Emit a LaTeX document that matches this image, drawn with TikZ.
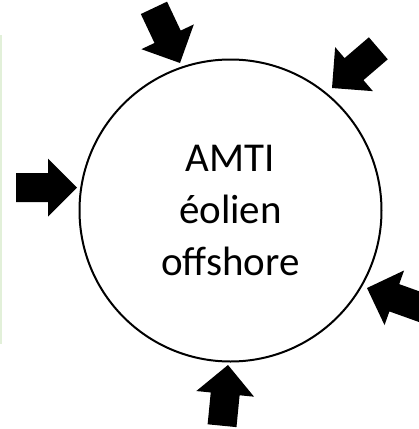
\documentclass[tikz,border=0pt]{standalone}
\usepackage{fontspec}
\setmainfont{Carlito}
\definecolor{edgegreen}{HTML}{E2F0D9}
\tikzset{
  blockarrow/.pic={\fill[black] (0,0) -- (-29,29) -- (-29,14.5) -- (-61,14.5) -- (-61,-14.5) -- (-29,-14.5) -- (-29,-29) -- cycle;},
  maincircle/.style={circle, draw=black, line width=2pt, minimum size=302pt, inner sep=0pt, align=center, font=\fontsize{41}{52}\selectfont}
}
\begin{document}
\begin{tikzpicture}[x=1pt,y=-1pt]
\useasboundingbox (0,0) rectangle (419,429);
\draw[edgegreen, line width=1.5pt] (-20,36) rectangle (1,343);
\node[maincircle] (c) at (230.5,210.5) {AMTI\\éolien\\offshore};
\pic[rotate=0] at (77,187.5) {blockarrow};
\pic[rotate=-64.7] at (180,63) {blockarrow};
\pic[rotate=220.6] at (332,88) {blockarrow};
\pic[rotate=160.3] at (367,288) {blockarrow};
\pic[rotate=84.4] at (228,365) {blockarrow};
\end{tikzpicture}
\end{document}
